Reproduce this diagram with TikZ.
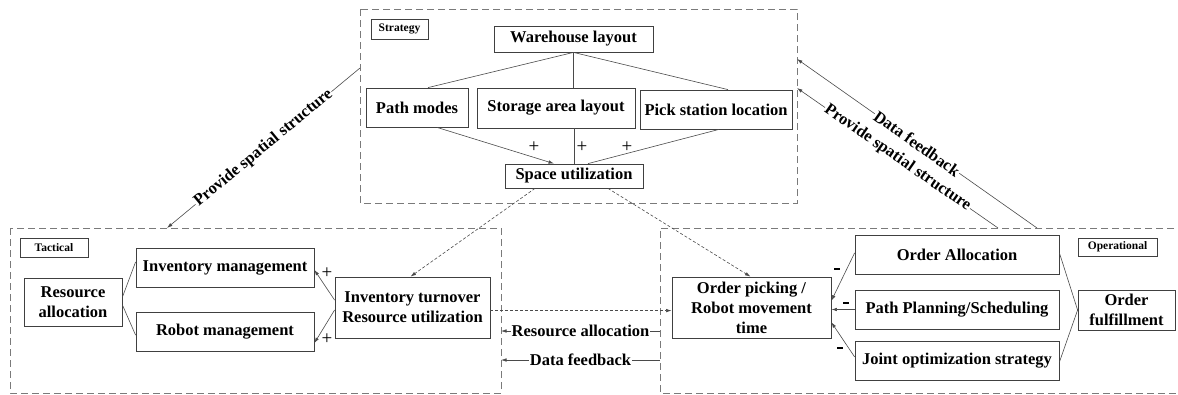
\documentclass[tikz,border=0pt]{standalone}
\usepackage{fontspec}
\setmainfont{Liberation Serif}
\usetikzlibrary{arrows.meta,calc}
\definecolor{boxgray}{HTML}{404040}
\definecolor{linegray}{HTML}{4A4A4A}
\definecolor{dashgray}{HTML}{7A7A7A}

\begin{document}
\begin{tikzpicture}[x=1pt,y=-1pt,
  box/.style={draw=boxgray, line width=0.8pt, align=center, inner sep=0pt,
    font=\fontsize{16.5}{20}\selectfont\bfseries},
  tag/.style={draw=boxgray, line width=0.7pt, inner sep=0pt,
    font=\fontsize{11.5}{13}\selectfont\bfseries},
  region/.style={draw=dashgray, line width=0.8pt, dash pattern=on 7pt off 4pt},
  link/.style={draw=linegray, line width=0.6pt},
  arr/.style={link, -{Latex[length=5.5pt,width=3.5pt]}},
  flow/.style={arr, dash pattern=on 3pt off 2pt},
  lbl/.style={fill=white, inner sep=1pt, font=\fontsize{16.5}{20}\selectfont\bfseries},
  sign/.style={inner sep=0pt, font=\fontsize{19}{19}\selectfont},
  minus/.style={inner sep=0pt}
]
\useasboundingbox (0,0) rectangle (1178,394);

% ---- planning levels ----
\draw[region] (360,9) rectangle (797,203);
\draw[region] (10,228) rectangle (501,393);
\draw[region] (1185,228) -- (660,228) -- (660,393) -- (1185,393);

\node[tag, minimum width=57pt, minimum height=20pt] (strat) at (399.5,29) {Strategy};
\node[tag, minimum width=68pt, minimum height=19pt] (tact) at (54,247.5) {Tactical};
\node[tag, minimum width=79pt, minimum height=18pt] (oper) at (1117.5,247) {Operational};

% ---- strategy ----
\node[box, minimum width=159pt, minimum height=26pt] (wh) at (573.5,39) {Warehouse layout};
\node[box, minimum width=102pt, minimum height=39pt] (pm) at (417,107.5) {Path modes};
\node[box, minimum width=158pt, minimum height=40pt] (sal) at (556,108) {Storage area layout};
\node[box, minimum width=152pt, minimum height=39pt] (psl) at (716,109.5) {Pick station location};
\node[box, minimum width=138pt, minimum height=24pt] (su) at (574,176) {Space utilization};

\draw[link] (wh.south) -- ([xshift=11pt]pm.north);
\draw[link] (wh.south) -- (wh.south |- sal.north);
\draw[link] (wh.south) -- ([xshift=12pt]psl.north);

\draw[arr] ([xshift=20pt]pm.south) -- ([xshift=-20pt]su.north);
\draw[link] (su.north |- sal.south) -- (su.north);
\draw[link] ([xshift=3pt]psl.south) -- ([xshift=14pt]su.north);
\node[sign] at (534,147) {+};
\node[sign] at (582,147) {+};
\node[sign] at (627,147) {+};

% ---- tactical ----
\node[box, minimum width=98pt, minimum height=48pt] (ra) at (73,302) {Resource\\allocation};
\node[box, minimum width=178pt, minimum height=39pt] (im) at (225,267.5) {Inventory management};
\node[box, minimum width=178pt, minimum height=39pt] (rm) at (225,331.5) {Robot management};
\node[box, minimum width=155pt, minimum height=61pt] (it) at (412.5,307.5) {Inventory turnover\\Resource utilization};

\draw[link] ($(ra.north east)!0.40!(ra.south east)$) -- ($(im.north west)!0.36!(im.south west)$);
\draw[link] ($(ra.north east)!0.56!(ra.south east)$) -- ($(rm.north west)!0.59!(rm.south west)$);
\draw[arr] ($(it.north west)!0.38!(it.south west)$) -- ($(im.north east)!0.56!(im.south east)$);
\draw[arr] ($(it.north west)!0.54!(it.south west)$) -- ($(rm.north east)!0.79!(rm.south east)$);
\node[sign] at (327,273) {+};
\node[sign] at (327,339) {+};

% ---- operational ----
\node[box, minimum width=159pt, minimum height=61pt] (opk) at (751.5,307.5) {Order picking /\\Robot movement\\time};
\node[box, minimum width=204pt, minimum height=39pt] (oa) at (957,254.5) {Order Allocation};
\node[box, minimum width=204pt, minimum height=39pt] (pp) at (957,309.5) {Path Planning/Scheduling};
\node[box, minimum width=204pt, minimum height=39pt] (jo) at (957,360.5) {Joint optimization strategy};
\node[box, minimum width=97pt, minimum height=40pt] (of) at (1126.5,310) {Order\\fulfillment};

\draw[arr] ($(oa.north west)!0.46!(oa.south west)$) -- ($(opk.north east)!0.39!(opk.south east)$);
\draw[arr] (pp.west) -- (pp.west -| opk.east);
\draw[arr] ($(jo.north west)!0.41!(jo.south west)$) -- ($(opk.north east)!0.74!(opk.south east)$);
\draw[link] (of.west) -- ($(oa.north east)!0.46!(oa.south east)$);
\draw[link] (of.west) -- ($(jo.north east)!0.54!(jo.south east)$);
\node[minus] at (837,269) {\rule{5.5pt}{2.4pt}};
\node[minus] at (846,303) {\rule{5.5pt}{2.4pt}};
\node[minus] at (840,348) {\rule{5.5pt}{2.4pt}};

% ---- influence between levels ----
\draw[flow] ([xshift=-39pt]su.south) -- ([xshift=-2pt]it.north);
\draw[flow] ([xshift=34pt]su.south) -- ([xshift=-1pt]opk.north);
\draw[flow] ($(it.north east)!0.55!(it.south east)$) -- ($(opk.north west)!0.55!(opk.south west)$);

\coordinate (sL) at (360,68);
\coordinate (tT) at (167,228);
\coordinate (sR1) at (797,59);
\coordinate (oT1) at (1037,228);
\coordinate (sR2) at (797,88);
\coordinate (oT2) at (998,228);
\coordinate (oL1) at (660,331);
\coordinate (tR1) at (501,331);
\coordinate (oL2) at (660,360);
\coordinate (tR2) at (501,360);

\draw[arr] (sL) -- node[lbl, sloped] {Provide spatial structure} (tT);
\draw[arr] (oT1) -- node[lbl, sloped] {Data feedback} (sR1);
\draw[arr] (oT2) -- node[lbl, sloped] {Provide spatial structure} (sR2);
\draw[arr] (oL1) -- node[lbl] {Resource allocation} (tR1);
\draw[arr] (oL2) -- node[lbl] {Data feedback} (tR2);
\end{tikzpicture}
\end{document}
